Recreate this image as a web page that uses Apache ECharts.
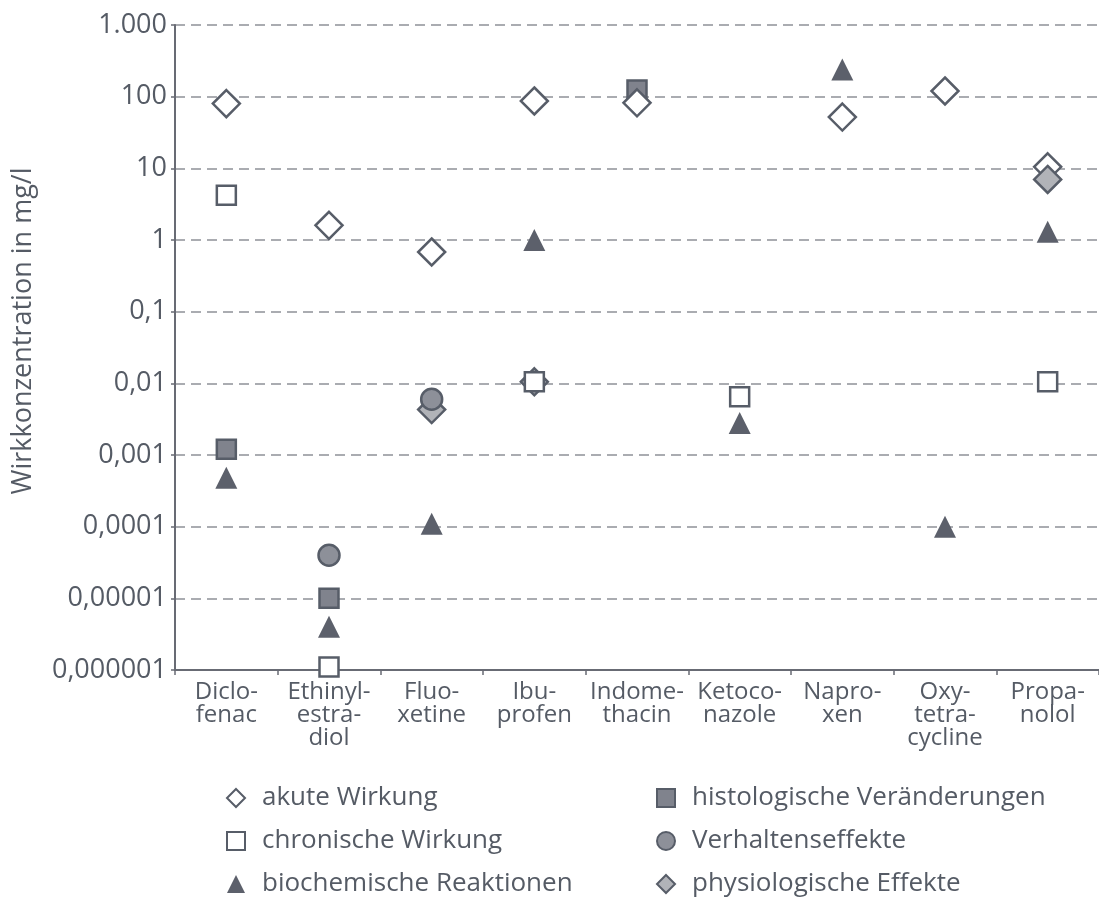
<!DOCTYPE html>
<html>
<head>
<meta charset="utf-8">
<script src="https://cdn.jsdelivr.net/npm/echarts@6/dist/echarts.min.js"></script>
<style>html,body{margin:0;padding:0;background:#fff}#c{width:1099px;height:900px}</style>
</head>
<body>
<div id="c"></div>
<script>
var categories = ['Diclo-\nfenac','Ethinyl-\nestra-\ndiol','Fluo-\nxetine','Ibu-\nprofen','Indome-\nthacin','Ketoco-\nnazole','Napro-\nxen','Oxy-\ntetra-\ncycline','Propa-\nnolol'];
var yTickLabels = ['0,000001','0,00001','0,0001','0,001','0,01','0,1','1','10','100','1.000'];
var akute      = [80, 1.6, 0.68, 87, 82, null, 52, 120, 10.5];
var chronisch  = [4.2, 0.0000011, null, 0.0105, null, 0.0065, null, null, 0.0105];
var biochem    = [0.00048, 0.000004, 0.00011, 1.0, null, 0.0028, 240, 0.0001, 1.3];
var histo      = [0.0012, 0.00001, null, null, 124, null, null, null, null];
var verhalten  = [null, 0.00004, 0.006, null, null, null, null, null, null];
var physio     = [null, null, 0.0043, 0.0105, null, null, null, null, 7.0];

var FONT = 'Open Sans';
var TXT = '#555b65';
var STROKE = '#575d68';

var chart = echarts.init(document.getElementById('c'));
function sc(name, data, symbol, size, style) {
  style.opacity = 1;
  return {
    name: name, type: 'scatter', data: data, symbol: symbol, symbolSize: size,
    itemStyle: style, emphasis: {disabled: true}, silent: true
  };
}
var legendText = {fontFamily: FONT, fontSize: 26, color: TXT, lineHeight: 26, padding: [0, 0, 0, 12]};
chart.setOption({
  animation: false,
  textStyle: {fontFamily: FONT, color: TXT},
  grid: {left: 175, right: -14, top: 25, bottom: 230, containLabel: false},
  graphic: [{
    type: 'text', x: 23, y: 331, rotation: Math.PI / 2,
    style: {text: 'Wirkkonzentration in mg/l', fontFamily: FONT, fontSize: 27, fill: TXT,
            align: 'center', verticalAlign: 'middle'}
  }],
  xAxis: {
    type: 'category', data: categories,
    axisLine: {lineStyle: {color: '#686b74', width: 2}},
    axisTick: {show: true, length: 5, lineStyle: {color: '#686b74', width: 1.5}},
    axisLabel: {fontFamily: FONT, fontSize: 24, color: TXT, lineHeight: 23, margin: 11, interval: 0},
    splitLine: {show: false}
  },
  yAxis: {
    type: 'log', logBase: 10, min: 0.000001, max: 1000, interval: 1,
    axisLine: {show: true, lineStyle: {color: '#686b74', width: 2}},
    axisTick: {show: true, length: 4, lineStyle: {color: '#686b74', width: 1.5}},
    axisLabel: {
      fontFamily: FONT, fontSize: 27, color: TXT, margin: 8,
      formatter: function (v) { return yTickLabels[Math.round(Math.log10(v)) + 6]; }
    },
    splitLine: {show: true, lineStyle: {color: '#8e9198', width: 1.5, type: [10, 6]}}
  },
  legend: [
    {
      orient: 'vertical', left: 226, top: 785, padding: 0, itemWidth: 18, itemHeight: 18, itemGap: 17,
      textStyle: legendText,
      data: ['akute Wirkung', 'chronische Wirkung', 'biochemische Reaktionen'],
      selectedMode: false
    },
    {
      orient: 'vertical', left: 656, top: 785, padding: 0, itemWidth: 18, itemHeight: 18, itemGap: 17,
      textStyle: legendText,
      data: ['histologische Veränderungen', 'Verhaltenseffekte', 'physiologische Effekte'],
      selectedMode: false
    }
  ],
  series: [
    sc('histologische Veränderungen', histo, 'rect', 19, {color: '#80838d', borderColor: STROKE, borderWidth: 2.5}),
    sc('akute Wirkung', akute, 'diamond', 27, {color: '#ffffff', borderColor: STROKE, borderWidth: 2.5}),
    sc('physiologische Effekte', physio, 'diamond', 27, {color: '#b1b3b8', borderColor: STROKE, borderWidth: 2.5}),
    sc('chronische Wirkung', chronisch, 'rect', 19, {color: '#ffffff', borderColor: STROKE, borderWidth: 2.5}),
    sc('Verhaltenseffekte', verhalten, 'circle', 21, {color: '#8d9099', borderColor: STROKE, borderWidth: 2.5}),
    sc('biochemische Reaktionen', biochem, 'triangle', 22, {color: '#5c606b'})
  ]
});
</script>
</body>
</html>
